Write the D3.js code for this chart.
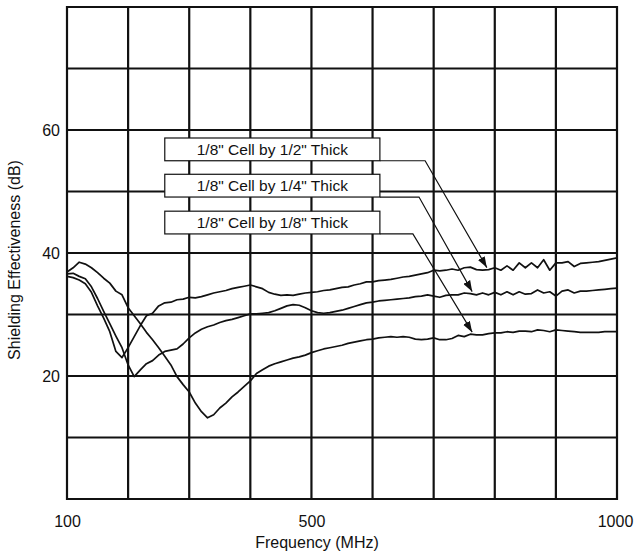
<!DOCTYPE html>
<html>
<head>
<meta charset="utf-8">
<script src="https://cdn.jsdelivr.net/npm/d3@7"></script>
<style>
body { margin: 0; background: #fff; }
text { font-family: "Liberation Sans", Arial, sans-serif; fill: #111; }
</style>
</head>
<body>
<script>
// sample frequencies (MHz), every 10 MHz across the sweep
var freq = d3.range(100, 1001, 10);

// shielding effectiveness (dB), one value per frequency
var halfThick = [
  36.2, 36.0, 35.6, 35.0, 33.6, 31.4, 29.4, 27.2, 24.0, 23.0,
  24.6, 26.4, 28.2, 29.8, 30.2, 31.4, 31.9, 32.0, 32.4, 32.5,
  32.8, 32.7, 32.9, 33.2, 33.5, 33.7, 33.9, 34.2, 34.4, 34.6,
  34.8, 34.5, 34.2, 33.6, 33.3, 33.1, 33.2, 33.1, 33.3, 33.5,
  33.6, 33.7, 33.9, 34.0, 34.2, 34.4, 34.5, 34.8, 35.0, 35.3,
  35.3, 35.5, 35.6, 35.7, 35.9, 36.1, 36.2, 36.4, 36.6, 36.8,
  37.2, 37.1, 37.2, 37.4, 37.2, 37.6, 37.7, 37.3, 37.2, 37.3,
  37.6, 37.2, 37.9, 37.2, 38.4, 37.6, 38.4, 37.6, 38.9, 37.2,
  38.4, 38.4, 38.6, 37.8, 38.3, 38.4, 38.5, 38.6, 38.8, 39.0,
  39.2
];
var quarterThick = [
  36.6, 36.7, 36.2, 35.8, 34.5, 32.6, 30.5, 28.5, 26.5, 24.6,
  21.8, 19.9, 21.0, 22.0, 22.5, 23.4, 24.0, 24.2, 24.4, 25.2,
  26.2, 27.0, 27.6, 28.0, 28.3, 28.7, 29.0, 29.2, 29.5, 29.8,
  30.1, 30.1, 30.2, 30.3, 30.6, 31.0, 31.4, 31.6, 31.5, 31.1,
  30.6, 30.3, 30.2, 30.3, 30.5, 30.7, 31.0, 31.3, 31.6, 31.9,
  32.0, 32.2, 32.3, 32.4, 32.5, 32.6, 32.7, 32.9, 33.0, 33.2,
  33.0, 32.8, 33.1, 33.2, 33.2, 33.5, 33.4, 33.2, 33.5, 33.2,
  33.6, 33.2, 33.7, 33.2, 33.7, 33.3, 33.4, 34.0, 33.5, 33.7,
  33.0, 33.8, 34.0, 33.5, 33.8, 33.8, 33.9, 34.0, 34.1, 34.2,
  34.3
];
var eighthThick = [
  36.9, 37.6, 38.5, 38.2, 37.6, 36.8, 35.9, 35.1, 33.8, 33.2,
  31.1, 29.8, 28.5, 27.1, 25.9, 24.6, 23.2, 21.8, 19.9, 18.6,
  17.4, 15.6, 14.2, 13.2, 13.7, 14.8, 15.6, 16.6, 17.4, 18.3,
  19.2, 20.4, 21.0, 21.6, 22.0, 22.3, 22.6, 22.9, 23.1, 23.4,
  23.8, 24.1, 24.4, 24.6, 24.8, 25.0, 25.3, 25.5, 25.7, 25.9,
  26.0, 26.2, 26.3, 26.4, 26.3, 26.4, 26.3, 26.0, 25.9, 26.0,
  26.2, 25.9, 25.9, 26.1, 26.6, 26.4, 26.8, 26.7, 26.7, 26.9,
  27.0, 27.0, 27.2, 27.1, 27.3, 27.3, 27.2, 27.5, 27.4, 27.2,
  27.5, 27.4, 27.3, 27.2, 27.1, 27.1, 27.1, 27.1, 27.2, 27.2,
  27.2
];

var xTickLabels = [100, 500, 1000];
var yTickLabels = [20, 40, 60];

var labels = ['1/8" Cell by 1/2" Thick', '1/8" Cell by 1/4" Thick', '1/8" Cell by 1/8" Thick'];
var series = [halfThick, quarterThick, eighthThick];
// frequency each arrow points at
var arrowFreq = [787, 763, 763];

var width = 634, height = 556;

var svg = d3.select("body")
    .append("svg")
    .attr("width", width)
    .attr("height", height);

var x = d3.scaleLinear().domain([100, 1000]).range([67, 617]);
var y = d3.scaleLinear().domain([0, 80]).range([499, 7]);

// grid, 100 MHz by 10 dB
svg.append("g")
    .selectAll("line")
    .data(d3.range(100, 1001, 100))
    .enter()
    .append("line")
    .attr("x1", function(d) { return x(d); })
    .attr("x2", function(d) { return x(d); })
    .attr("y1", y(0) + 1)
    .attr("y2", y(80) - 1)
    .attr("stroke", "#111")
    .attr("stroke-width", 2.2);

svg.append("g")
    .selectAll("line")
    .data(d3.range(0, 81, 10))
    .enter()
    .append("line")
    .attr("x1", x(100) - 1)
    .attr("x2", x(1000) + 1)
    .attr("y1", function(d) { return y(d); })
    .attr("y2", function(d) { return y(d); })
    .attr("stroke", "#111")
    .attr("stroke-width", 2.2);

// tick labels
var xAxis = d3.axisBottom(x)
    .tickValues(xTickLabels)
    .tickFormat(d3.format("d"))
    .tickSize(0)
    .tickPadding(0);
var gx = svg.append("g")
    .attr("transform", "translate(0,527)")
    .call(xAxis);
gx.select(".domain").remove();
gx.selectAll("text")
    .attr("dy", null)
    .attr("y", 0)
    .attr("x", function(d) { return d === 1000 ? -2 : 0; })
    .style("font-size", "16px")
    .style("font-family", "Liberation Sans, Arial, sans-serif");

var yAxis = d3.axisLeft(y).tickValues(yTickLabels).tickSize(0).tickPadding(0);
var gy = svg.append("g")
    .attr("transform", "translate(60,0)")
    .call(yAxis);
gy.select(".domain").remove();
gy.selectAll("text")
    .style("font-size", "16px")
    .style("font-family", "Liberation Sans, Arial, sans-serif");

// axis titles
svg.append("text")
    .attr("x", 317)
    .attr("y", 548)
    .attr("text-anchor", "middle")
    .style("font-size", "16px")
    .text("Frequency (MHz)");

svg.append("text")
    .attr("transform", "translate(20,260) rotate(-90)")
    .attr("text-anchor", "middle")
    .style("font-size", "16px")
    .text("Shielding Effectiveness (dB)");

// curves
var line = d3.line()
    .x(function(d, i) { return x(freq[i]); })
    .y(function(d) { return y(d); });

svg.append("g")
    .selectAll("path")
    .data(series)
    .enter()
    .append("path")
    .attr("d", line)
    .attr("fill", "none")
    .attr("stroke", "#111")
    .attr("stroke-width", 1.7)
    .attr("stroke-linejoin", "round");

// arrowhead
svg.append("defs").append("marker")
    .attr("id", "arrow")
    .attr("viewBox", "0 0 10 7")
    .attr("refX", 10)
    .attr("refY", 3.5)
    .attr("markerWidth", 11)
    .attr("markerHeight", 8)
    .attr("markerUnits", "userSpaceOnUse")
    .attr("orient", "auto")
    .append("path")
    .attr("d", "M0,0 L10,3.5 L0,7 z")
    .attr("fill", "#111");

// label boxes (placed in data units: 260-612 MHz, top edge in dB)
var boxTop = [58.7, 52.8, 46.8];
var boxH = 3.7;
var bendFreq = [686, 676, 666];

var boxes = svg.append("g")
    .selectAll("g")
    .data(labels)
    .enter()
    .append("g");

boxes.append("rect")
    .attr("x", x(260))
    .attr("y", function(d, i) { return y(boxTop[i]); })
    .attr("width", x(612) - x(260))
    .attr("height", y(0) - y(boxH))
    .attr("fill", "#fff")
    .attr("stroke", "#111")
    .attr("stroke-width", 1.2);

boxes.append("text")
    .attr("x", (x(260) + x(612)) / 2)
    .attr("y", function(d, i) { return y(boxTop[i] - boxH / 2); })
    .attr("dy", "0.36em")
    .attr("text-anchor", "middle")
    .style("font-size", "15.5px")
    .text(function(d) { return d; });

// leader lines to each curve
svg.append("g")
    .selectAll("path")
    .data(labels)
    .enter()
    .append("path")
    .attr("d", function(d, i) {
        var yb = y(boxTop[i] - boxH);
        var k = freq.indexOf(Math.round(arrowFreq[i] / 10) * 10);
        var tipY = y(series[i][k]) - 2;
        return "M" + x(612) + "," + yb +
            "L" + x(bendFreq[i]) + "," + yb +
            "L" + x(arrowFreq[i]) + "," + tipY;
    })
    .attr("fill", "none")
    .attr("stroke", "#111")
    .attr("stroke-width", 1.2)
    .attr("marker-end", "url(#arrow)");
</script>
</body>
</html>
